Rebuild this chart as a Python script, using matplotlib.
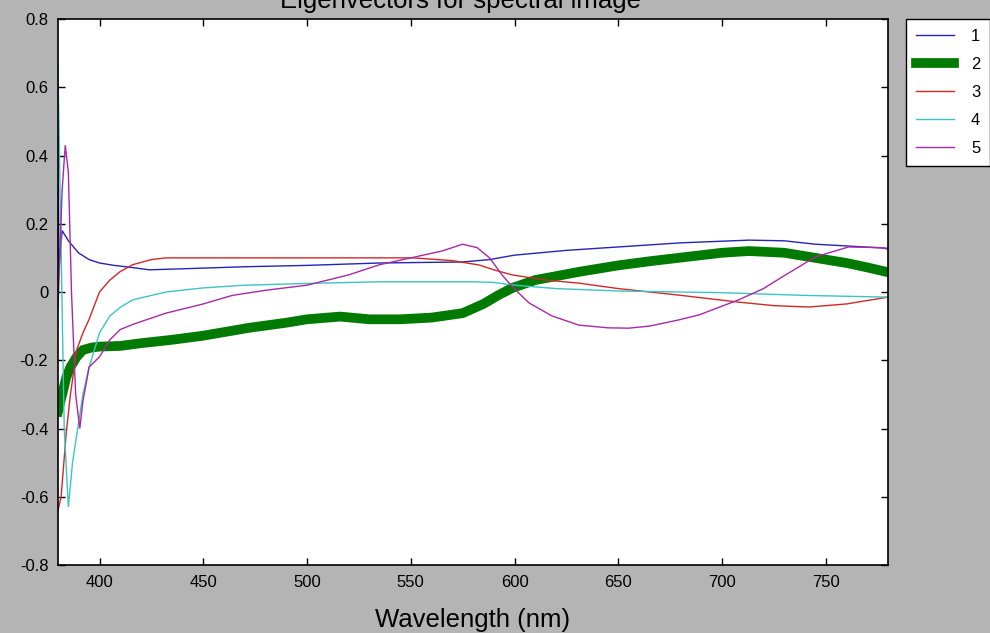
import numpy as np
import matplotlib
matplotlib.use('Agg')
import matplotlib.pyplot as plt

# Eigenvectors (wavelength in nm, value)
wl_1 = [380, 380.5, 382, 385, 390, 395, 400, 407, 414, 424, 440, 470, 500, 535, 575, 588, 600,
        625, 650, 665, 680, 713, 730, 745, 760, 780]
ev_1 = [0.48, 0.07, 0.18, 0.15, 0.114, 0.095, 0.085, 0.078, 0.073, 0.065, 0.068, 0.074, 0.078,
        0.085, 0.088, 0.095, 0.108, 0.122, 0.132, 0.138, 0.144, 0.152, 0.15, 0.14, 0.135, 0.128]

wl_2 = [380, 382, 384, 386, 389, 392, 396, 400, 410, 420, 435, 450, 472, 490, 500, 516, 530, 545,
        560, 575, 585, 592, 599, 610, 631, 650, 665, 679, 700, 713, 730, 745, 760, 770, 780]
ev_2 = [-0.35, -0.3, -0.25, -0.22, -0.19, -0.17, -0.163, -0.16, -0.158, -0.15, -0.14, -0.128,
        -0.105, -0.09, -0.08, -0.072, -0.08, -0.08, -0.075, -0.062, -0.035, -0.01, 0.012, 0.035,
        0.059, 0.078, 0.09, 0.1, 0.115, 0.12, 0.115, 0.1, 0.085, 0.072, 0.058]

wl_3 = [380, 381.5, 384, 386, 389, 392, 395, 400, 405, 410, 416, 425, 432, 470, 500, 535, 551,
        570, 583, 590, 599, 615, 631, 650, 679, 707, 725, 742, 760, 777, 780]
ev_3 = [-0.64, -0.6, -0.41, -0.3, -0.17, -0.12, -0.08, 0.0, 0.035, 0.06, 0.08, 0.095, 0.1, 0.1,
        0.1, 0.1, 0.1, 0.092, 0.079, 0.065, 0.05, 0.035, 0.026, 0.01, -0.009, -0.029, -0.04,
        -0.044, -0.035, -0.018, -0.015]

wl_4 = [380, 381, 383, 385, 387, 390, 392, 395, 397, 400, 405, 410, 416, 425, 432, 450, 470, 500,
        535, 580, 590, 600, 620, 650, 680, 700, 740, 780]
ev_4 = [0.65, 0.3, -0.4, -0.63, -0.5, -0.38, -0.3, -0.22, -0.18, -0.12, -0.07, -0.045, -0.023,
        -0.01, 0.0, 0.012, 0.02, 0.025, 0.03, 0.03, 0.028, 0.02, 0.01, 0.003, 0.0, -0.002, -0.01,
        -0.015]

wl_5 = [380, 382, 383.5, 385, 386.5, 388.5, 390.5, 392, 395, 400, 405, 410, 416, 432, 450, 464,
        480, 500, 520, 535, 550, 565, 575, 582, 588, 594, 599, 607, 618, 631, 645, 655, 665, 679,
        689, 708, 720, 729, 745, 761, 777, 780]
ev_5 = [-0.05, 0.3, 0.43, 0.35, 0.0, -0.3, -0.4, -0.32, -0.22, -0.19, -0.14, -0.11, -0.095,
        -0.062, -0.035, -0.01, 0.005, 0.02, 0.05, 0.08, 0.1, 0.12, 0.14, 0.13, 0.1, 0.05, 0.015,
        -0.032, -0.07, -0.097, -0.105, -0.106, -0.1, -0.082, -0.067, -0.023, 0.01, 0.044, 0.103,
        0.132, 0.13, 0.125]

labels = ['1', '2', '3', '4', '5']
colors = ['#2424b8', '#007a00', '#d02828', '#3cc4c4', '#a828a8']
widths = [1.0, 7.0, 1.0, 1.0, 1.0]

plt.rcParams['font.family'] = ['Liberation Sans', 'DejaVu Sans']

fig = plt.figure(figsize=(9.9, 6.33), dpi=100, facecolor='#b4b4b4')
ax = fig.add_axes([58 / 990, 68 / 633, 830 / 990, 546 / 633])
ax.set_facecolor('white')

series = [(wl_1, ev_1), (wl_2, ev_2), (wl_3, ev_3), (wl_4, ev_4), (wl_5, ev_5)]
handles = []
for (wl, ev), lab, c, w in zip(series, labels, colors, widths):
    h, = ax.plot(wl, ev, color=c, lw=w, label=lab, solid_joinstyle='miter')
    handles.append(h)

ax.set_xlim(380, 780)
ax.set_ylim(-0.8, 0.8)
ax.set_xticks(np.arange(400, 751, 50))
ax.set_yticks(np.arange(-0.8, 0.81, 0.2))
ax.set_yticklabels(['-0.8', '-0.6', '-0.4', '-0.2', '0', '0.2', '0.4', '0.6', '0.8'])
ax.tick_params(direction='in', length=5, width=1, top=True, right=True,
               labelsize=12, pad=7, colors='black')
for s in ax.spines.values():
    s.set_linewidth(1.2)

ax.set_xlabel('Wavelength (nm)', fontsize=18.5, labelpad=13)
# title sits partly above the figure edge, as in the reference
fig.text(460 / 990, 1 - 8 / 633, 'Eigenvectors for spectral image', ha='center',
         va='baseline', fontsize=18.5)

leg = fig.legend(handles=handles, loc='upper left', bbox_to_anchor=(906 / 990, 1 - 19 / 633),
                 fancybox=False, framealpha=1, edgecolor='black', fontsize=12,
                 handlelength=2.3, borderaxespad=0, labelspacing=0.78, handletextpad=1.0,
                 borderpad=0.6)
leg.get_frame().set_linewidth(1.0)

fig.savefig('out.png', dpi=100, facecolor=fig.get_facecolor())
